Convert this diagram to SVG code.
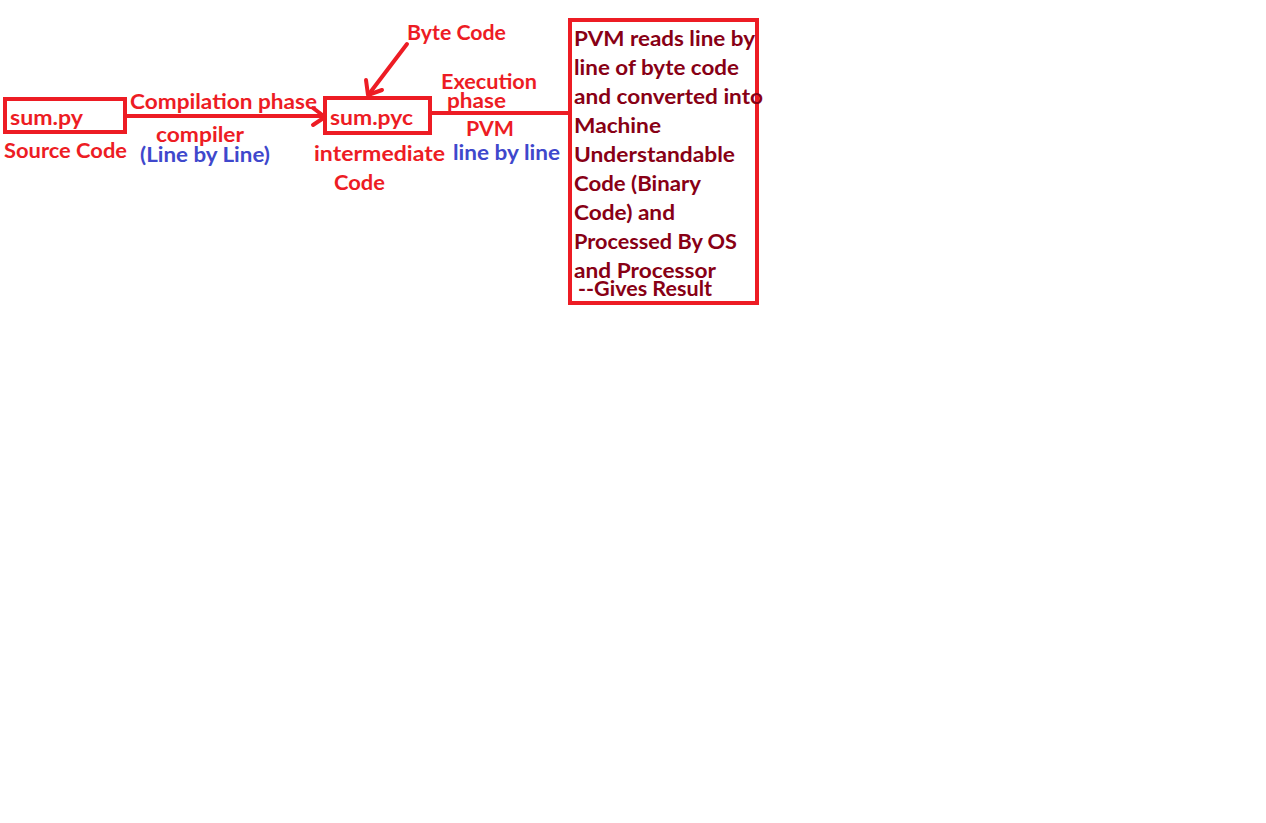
<svg xmlns="http://www.w3.org/2000/svg" width="1266" height="823" viewBox="0 0 1266 823">
<style>
text{font-family:Lato,"Open Sans","Liberation Sans",sans-serif;font-weight:bold;font-size:20px}
.r{fill:#ed1c24}.b{fill:#3f48cc}.d{fill:#880015}
.box{fill:none;stroke:#ed1c24;stroke-width:4}
.ln{fill:none;stroke:#ed1c24;stroke-width:4;stroke-linecap:round;stroke-linejoin:round}
</style>
<rect width="1266" height="823" fill="#fff"/>
<g id="connectors">
<line class="ln" x1="127" y1="116" x2="324" y2="116"/>
<polyline class="ln" points="313,108 325,117 313,125"/>
<line class="ln" x1="407" y1="44" x2="369" y2="94"/>
<polyline class="ln" points="366,80 368,95 382,90"/>
<line class="ln" x1="431" y1="113" x2="569" y2="113"/>
</g>
<g id="sumpy">
<rect class="box" x="5" y="99" width="120" height="33"/>
<text class="r" x="10" y="125" textLength="73" lengthAdjust="spacingAndGlyphs">sum.py</text>
<text class="r" x="4" y="158" textLength="123" lengthAdjust="spacingAndGlyphs">Source Code</text>
</g>
<g id="compile-labels">
<text class="r" x="130" y="109" textLength="187" lengthAdjust="spacingAndGlyphs">Compilation phase</text>
<text class="r" x="156" y="142" textLength="88" lengthAdjust="spacingAndGlyphs">compiler</text>
<text class="b" x="140" y="162" textLength="130" lengthAdjust="spacingAndGlyphs">(Line by Line)</text>
</g>
<g id="sumpyc">
<rect class="box" x="325" y="98" width="105" height="35"/>
<text class="r" x="330" y="125" textLength="83" lengthAdjust="spacingAndGlyphs">sum.pyc</text>
<text class="r" x="314" y="161" textLength="131" lengthAdjust="spacingAndGlyphs">intermediate</text>
<text class="r" x="334" y="190" textLength="51" lengthAdjust="spacingAndGlyphs">Code</text>
<text class="r" x="407" y="40" textLength="99" lengthAdjust="spacingAndGlyphs">Byte Code</text>
</g>
<g id="exec-labels">
<text class="r" x="441" y="89" textLength="96" lengthAdjust="spacingAndGlyphs">Execution</text>
<text class="r" x="447" y="108" textLength="59" lengthAdjust="spacingAndGlyphs">phase</text>
<text class="r" x="466" y="136" textLength="48" lengthAdjust="spacingAndGlyphs">PVM</text>
<text class="b" x="453" y="160" textLength="107" lengthAdjust="spacingAndGlyphs">line by line</text>
</g>
<g id="pvm">
<rect class="box" x="570" y="20" width="187" height="283"/>
<text class="d" x="574" y="46" textLength="181" lengthAdjust="spacingAndGlyphs">PVM reads line by</text>
<text class="d" x="574" y="75" textLength="165" lengthAdjust="spacingAndGlyphs">line of byte code</text>
<text class="d" x="574" y="104" textLength="189" lengthAdjust="spacingAndGlyphs">and converted into</text>
<text class="d" x="574" y="133" textLength="87" lengthAdjust="spacingAndGlyphs">Machine</text>
<text class="d" x="574" y="162" textLength="161" lengthAdjust="spacingAndGlyphs">Understandable</text>
<text class="d" x="574" y="191" textLength="127" lengthAdjust="spacingAndGlyphs">Code (Binary</text>
<text class="d" x="574" y="220" textLength="101" lengthAdjust="spacingAndGlyphs">Code) and</text>
<text class="d" x="574" y="249" textLength="163" lengthAdjust="spacingAndGlyphs">Processed By OS</text>
<text class="d" x="574" y="278" textLength="142" lengthAdjust="spacingAndGlyphs">and Processor</text>
<text class="d" x="578" y="296" textLength="134" lengthAdjust="spacingAndGlyphs">--Gives Result</text>
</g>
</svg>
